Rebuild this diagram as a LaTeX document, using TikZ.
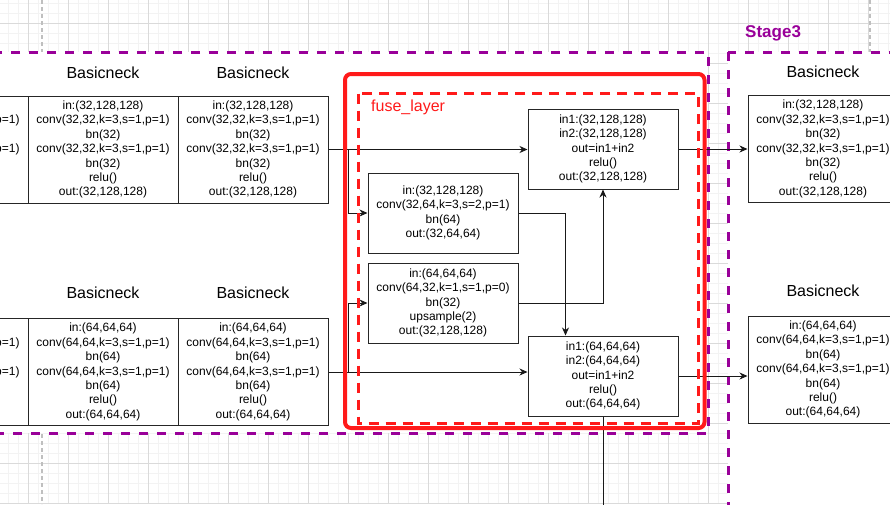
\documentclass[tikz,border=0pt]{standalone}
\usepackage{fontspec}
\setmainfont{Liberation Sans}
\usetikzlibrary{arrows.meta}
\definecolor{stagepurple}{RGB}{153,0,153}
\definecolor{fusered}{RGB}{255,26,26}
\definecolor{gridmajor}{RGB}{218,218,218}
\definecolor{gridminor}{RGB}{243,243,243}
\newcommand{\neckHi}{in:(32,128,128)\\conv(32,32,k=3,s=1,p=1)\\bn(32)\\conv(32,32,k=3,s=1,p=1)\\bn(32)\\relu()\\out:(32,128,128)}
\newcommand{\neckLo}{in:(64,64,64)\\conv(64,64,k=3,s=1,p=1)\\bn(64)\\conv(64,64,k=3,s=1,p=1)\\bn(64)\\relu()\\out:(64,64,64)}
\tikzset{
	neck/.style={draw=black!85, fill=white, line width=1pt, minimum width=150pt, minimum height=107pt,
		inner sep=0pt, align=center, font=\fontsize{12}{14.4}\selectfont},
	fuse/.style={neck, minimum height=80pt},
	title/.style={font=\fontsize{16}{19}\selectfont, inner sep=0pt},
	arr/.style={-{Stealth[length=8pt,width=7pt,inset=2.5pt]}, line width=1pt, black!90},
	wire/.style={line width=1pt, black!90},
	stage/.style={draw=stagepurple, fill=white, line width=3pt, dash pattern=on 9pt off 9pt}
}
\begin{document}
\begin{tikzpicture}[x=1pt, y=-1pt]
	\useasboundingbox (0,0) rectangle (890,504);
	\clip (0,0) rectangle (890,504);
	\foreach \x in {8,18,...,888} \draw [gridminor, line width=1pt] (\x,0) -- (\x,504);
	\foreach \y in {3,13,...,503} \draw [gridminor, line width=1pt] (0,\y) -- (890,\y);
	\foreach \x in {28,68,...,868} \draw [gridmajor, line width=1pt] (\x,0) -- (\x,504);
	\foreach \y in {23,63,...,503} \draw [gridmajor, line width=1pt] (0,\y) -- (890,\y);
	\draw [gray!50, line width=1.5pt, dash pattern=on 4pt off 3pt] (42,0) -- (42,504);
	\draw [gray!50, line width=1.5pt, dash pattern=on 4pt off 3pt] (870,0) -- (870,504);
	\draw [stage] (-20,52) rectangle (708,433);
	\draw [stage] (728,52) rectangle (920,530);
	\node [anchor=west, inner sep=0pt, text=stagepurple, font=\fontsize{17}{20}\selectfont\bfseries] (stageLbl) at (745,33) {Stage3};

	\node [neck] (neckA) at (-47,149.5) {\neckHi};
	\node [neck] (neckB) at (103,149.5) {\neckHi};
	\node [neck] (neckC) at (253,149.5) {\neckHi};
	\node [neck] (neckR) at (823,149) {\neckHi};
	\node [neck] (neckA2) at (-47,372) {\neckLo};
	\node [neck] (neckB2) at (103,372) {\neckLo};
	\node [neck] (neckC2) at (253,372) {\neckLo};
	\node [neck] (neckR2) at (823,369.5) {\neckLo};
	\node [title] (tB) at ([yshift=23pt]neckB.north) {Basicneck};
	\node [title] (tC) at ([yshift=23pt]neckC.north) {Basicneck};
	\node [title] (tR) at ([yshift=23pt]neckR.north) {Basicneck};
	\node [title] (tB2) at ([yshift=25pt]neckB2.north) {Basicneck};
	\node [title] (tC2) at ([yshift=25pt]neckC2.north) {Basicneck};
	\node [title] (tR2) at ([yshift=25pt]neckR2.north) {Basicneck};

	\node [fuse] (down) at (443,213) {in:(32,128,128)\\conv(32,64,k=3,s=2,p=1)\\bn(64)\\out:(32,64,64)};
	\node [fuse] (up) at (443,303) {in:(64,64,64)\\conv(64,32,k=1,s=1,p=0)\\bn(32)\\upsample(2)\\out:(32,128,128)};
	\node [fuse] (addHi) at (603,149) {in1:(32,128,128)\\in2:(32,128,128)\\out=in1+in2\\relu()\\out:(32,128,128)};
	\node [fuse] (addLo) at (603,376) {in1:(64,64,64)\\in2:(64,64,64)\\out=in1+in2\\relu()\\out:(64,64,64)};

	\coordinate (splitHi) at (348,149.5);
	\coordinate (splitLo) at (348,372);
	\coordinate (exitLo) at (603,520);
	\draw [arr] (neckC.east) -- (neckC.east -| addHi.west);
	\draw [arr] (splitHi) |- (down.west);
	\draw [arr] (neckC2.east) -- (neckC2.east -| addLo.west);
	\draw [arr] (splitLo) |- (up.west);
	\draw [arr] (down.east) -| ([xshift=38pt]addLo.north west);
	\draw [arr] (up.east) -| (addHi.south);
	\draw [arr] (addHi.east) -- (addHi.east -| neckR.west);
	\draw [arr] (addLo.east) -- (addLo.east -| neckR2.west);
	\draw [wire] (addLo.south) -- (exitLo);

	\draw [fusered, line width=4pt, rounded corners=6pt] (345,74) rectangle (704.5,428);
	\draw [fusered, line width=3pt, dash pattern=on 10pt off 7pt] (358,93.5) rectangle (698.5,423);
	\node [anchor=west, inner sep=0pt, text=fusered, font=\fontsize{16}{19}\selectfont] (fuseLbl) at (371,107) {fuse\_layer};
\end{tikzpicture}
\end{document}
